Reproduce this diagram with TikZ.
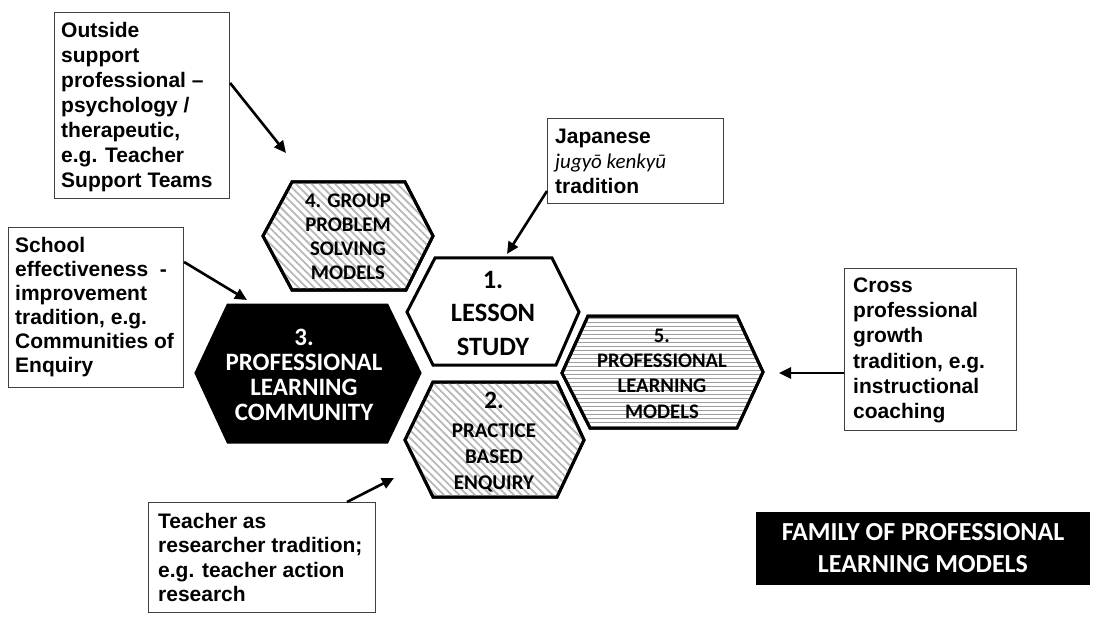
\documentclass[tikz,border=0pt]{standalone}
\usepackage{fontspec}
\setmainfont{Liberation Sans}
\newfontfamily\calibri{Carlito}
\usetikzlibrary{arrows.meta,patterns.meta}

\begin{document}
\begin{tikzpicture}[x=1bp,y=-1bp,
  note/.style={draw=black!75,line width=1.1bp,fill=white,inner sep=0,anchor=north west},
  notetext/.style={anchor=north west,inner sep=0,align=left,
    font=\fontsize{21bp}{24.6bp}\selectfont\bfseries},
  hexline/.style={line width=3bp,line join=miter,draw=black},
  diaghatch/.style={pattern={Lines[angle=-45,distance=5.5bp,line width=1.8bp]},pattern color=black!28},
  horizhatch/.style={pattern={Lines[angle=0,distance=4bp,line width=1bp]},pattern color=black!38},
  hexlabel/.style={inner sep=0,align=center,anchor=north},
  arr/.style={line width=2.6bp,-{Triangle[length=12bp,width=11bp]}}
]
\useasboundingbox (0,0) rectangle (1104,619);

% ---- the five hexagons ----
% 4. group problem solving
\filldraw[hexline,fill=white] (263,236) -- (292,182) -- (405,182) -- (433,236) -- (406,290) -- (292,290) -- cycle;
\path[diaghatch] (263,236) -- (292,182) -- (405,182) -- (433,236) -- (406,290) -- (292,290) -- cycle;
\draw[hexline] (263,236) -- (292,182) -- (405,182) -- (433,236) -- (406,290) -- (292,290) -- cycle;
% 1. lesson study
\filldraw[hexline,fill=white] (407,312) -- (435,258) -- (552,258) -- (579,312) -- (556,365) -- (433,365) -- cycle;
% 2. practice based enquiry
\filldraw[hexline,fill=white] (405,440) -- (433,382) -- (557,382) -- (584,440) -- (557,497) -- (433,497) -- cycle;
\path[diaghatch] (405,440) -- (433,382) -- (557,382) -- (584,440) -- (557,497) -- (433,497) -- cycle;
\draw[hexline] (405,440) -- (433,382) -- (557,382) -- (584,440) -- (557,497) -- (433,497) -- cycle;
% 3. professional learning community
\filldraw[hexline,fill=black] (196,373) -- (228,305) -- (387,305) -- (420,373) -- (387,442) -- (228,442) -- cycle;
% 5. professional learning models
\filldraw[hexline,fill=white] (562,373) -- (588,316) -- (737,316) -- (763,372) -- (737,428) -- (590,428) -- cycle;
\path[horizhatch] (562,373) -- (588,316) -- (737,316) -- (763,372) -- (737,428) -- (590,428) -- cycle;
\draw[hexline] (562,373) -- (588,316) -- (737,316) -- (763,372) -- (737,428) -- (590,428) -- cycle;

% ---- hexagon labels ----
\node[hexlabel,font={\calibri\bfseries\fontsize{20.8bp}{24bp}\selectfont}] (h4) at (348,207-18)
  {\rule{0pt}{18bp}4. GROUP\\PROBLEM\\SOLVING\\MODELS};
\node[hexlabel,font={\calibri\bfseries\fontsize{26.5bp}{33.5bp}\selectfont}] (h1) at (493,288-22)
  {\rule{0pt}{22bp}1.\\LESSON\\STUDY};
\node[hexlabel,font={\calibri\bfseries\fontsize{25bp}{26bp}\selectfont}] (h2num) at (494,408-21)
  {\rule{0pt}{21bp}2.};
\node[hexlabel,font={\calibri\bfseries\fontsize{21bp}{26bp}\selectfont}] (h2) at (494,437-18)
  {\rule{0pt}{18bp}PRACTICE\\BASED\\ENQUIRY};
\node[hexlabel,text=white,font={\calibri\bfseries\fontsize{25bp}{25bp}\selectfont}] (h3) at (304,345-21)
  {\rule{0pt}{21bp}3.\\PROFESSIONAL\\LEARNING\\COMMUNITY};
\node[hexlabel,font={\calibri\bfseries\fontsize{20.7bp}{25.3bp}\selectfont}] (h5) at (662,342-18)
  {\rule{0pt}{18bp}5.\\PROFESSIONAL\\LEARNING\\MODELS};

% ---- tradition notes ----
\node[note,minimum width=175bp,minimum height=186bp] (outside) at (54,12) {};
\node[notetext,font={\fontsize{21bp}{25bp}\selectfont\bfseries}] (outsidetxt) at (61,37-17)
  {\rule{0pt}{17bp}Outside\\support\\professional –\\psychology /\\therapeutic,\\e.g. Teacher\\Support Teams};

\node[note,minimum width=175bp,minimum height=160bp] (school) at (8,227) {};
\node[notetext,font={\fontsize{21bp}{24bp}\selectfont\bfseries}] (schooltxt) at (15,252-17)
  {\rule{0pt}{17bp}School\\effectiveness\ \ -\\improvement\\tradition, e.g.\\Communities of\\Enquiry};

\node[note,minimum width=176bp,minimum height=85bp] (jp) at (547,118) {};
\node[notetext,font={\fontsize{21bp}{25bp}\selectfont\bfseries}] (jptxt) at (555,143-17)
  {\rule{0pt}{17bp}Japanese\\{\calibri\mdseries\itshape jugyō kenkyū}\\tradition};

\node[note,minimum width=172bp,minimum height=162bp] (cross) at (844,268) {};
\node[notetext,font={\fontsize{21bp}{25.3bp}\selectfont\bfseries}] (crosstxt) at (853,292-17)
  {\rule{0pt}{17bp}Cross\\professional\\growth\\tradition, e.g.\\instructional\\coaching};

\node[note,minimum width=227bp,minimum height=110bp] (teacher) at (148,502) {};
\node[notetext,font={\fontsize{21bp}{24.5bp}\selectfont\bfseries}] (teachertxt) at (158,528-17)
  {\rule{0pt}{17bp}Teacher as\\researcher tradition;\\e.g. teacher action\\research};

% ---- title panel ----
\node[fill=black,inner sep=0,anchor=north west,minimum width=334bp,minimum height=73bp] (title) at (756,512) {};
\node[hexlabel,text=white,font={\calibri\bfseries\fontsize{26bp}{32bp}\selectfont}] (titletxt) at (923,540-19)
  {\rule{0pt}{19bp}FAMILY OF PROFESSIONAL\\LEARNING MODELS};

% ---- arrow targets on the hexagons ----
\coordinate (t4) at (286,153);
\coordinate (t1) at (507,254);
\coordinate (t3) at (247,300);
\coordinate (t5) at (779,373);
\coordinate (t2) at (394,478);

% ---- arrows ----
\draw[arr] (outside.north east |- 0,83) -- (t4);
\draw[arr] (jp.west |- 0,191) -- (t1);
\draw[arr] (school.east |- 0,262) -- (t3);
\draw[arr] (cross.west |- 0,373) -- (t5);
\draw[arr] (teacher.north -| 347,0) -- (t2);
\end{tikzpicture}
\end{document}
